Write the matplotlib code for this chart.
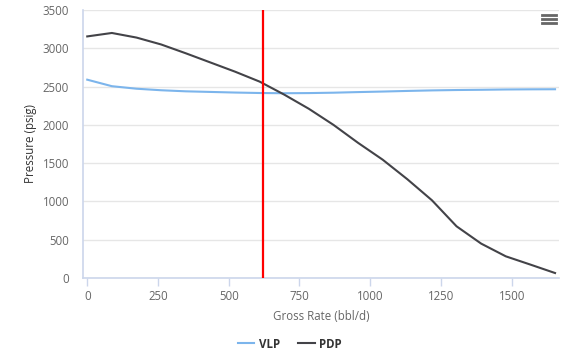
import numpy as np
import matplotlib
matplotlib.use("Agg")
import matplotlib.pyplot as plt
from matplotlib.lines import Line2D

# -- data
gross_rate = [0, 87, 174, 261, 348, 435, 522, 609, 696, 783,
              870, 957, 1044, 1131, 1218, 1305, 1392, 1479, 1566, 1653]
vlp = [2590, 2505, 2472, 2452, 2438, 2430, 2422, 2416, 2413, 2415,
       2420, 2428, 2435, 2443, 2450, 2455, 2458, 2462, 2464, 2465]
pdp = [3155, 3200, 3140, 3050, 2935, 2815, 2695, 2565, 2395, 2210,
       2000, 1765, 1545, 1290, 1015, 675, 449, 283, 175, 65]
operating_rate = 621

x_ticks = [0, 250, 500, 750, 1000, 1250, 1500]
y_ticks = [0, 500, 1000, 1500, 2000, 2500, 3000, 3500]

# -- styling
plt.rcParams['font.family'] = ['Open Sans', 'DejaVu Sans']
label_color = '#666666'
axis_color = '#ccd6eb'
grid_color = '#e6e6e6'

W, H = 568, 351
fig = plt.figure(figsize=(W / 100, H / 100), dpi=100)
ax = fig.add_axes([83 / W, 1 - 278 / H, (559 - 83) / W, (278 - 10) / H])

ax.plot(gross_rate, vlp, color='#7cb5ec', lw=1.5, label='VLP', zorder=3)
ax.plot(gross_rate, pdp, color='#434348', lw=1.5, label='PDP', zorder=3)
ax.axvline(operating_rate, color='#ff0000', lw=1.6, zorder=4)

ax.set_xlim(-15, 1667)
ax.set_ylim(0, 3500)
ax.set_xticks(x_ticks)
ax.set_yticks(y_ticks)

ax.grid(axis='y', color=grid_color, lw=1)
ax.set_axisbelow(True)
for side in ['top', 'right']:
  ax.spines[side].set_visible(False)
for side in ['left', 'bottom']:
  ax.spines[side].set_color(axis_color)
  ax.spines[side].set_linewidth(1.2)

ax.tick_params(axis='x', colors=axis_color, labelcolor=label_color, length=6,
               width=1, direction='out', labelsize=8.3, pad=3)
ax.tick_params(axis='y', length=0, labelcolor=label_color, labelsize=8.3, pad=10)

ax.set_xlabel('Gross Rate (bbl/d)', color=label_color, fontsize=8.3, labelpad=5)
ax.set_ylabel('Pressure (psig)', color='#333333', fontsize=8.3, labelpad=4)

# -- legend below the plot
leg = fig.legend(loc='center', bbox_to_anchor=(290 / W, 1 - 344 / H), ncol=2,
                 frameon=False, fontsize=8.3, handlelength=1.4, columnspacing=1.6,
                 handletextpad=0.4)
for txt in leg.get_texts():
  txt.set_color('#333333')
  txt.set_fontweight('bold')

# -- the little context menu icon in the corner
for yy in [15, 19, 23]:
  fig.add_artist(Line2D([542 / W, 556 / W], [1 - yy / H, 1 - yy / H],
                        color='#666666', lw=2.0, transform=fig.transFigure))

fig.savefig('out.png', dpi=100)
